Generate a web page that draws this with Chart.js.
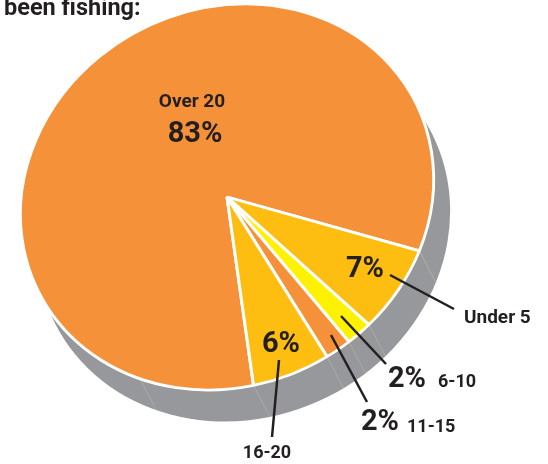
<!DOCTYPE html>
<html>
<head>
<meta charset="utf-8">
<style>
    body { margin: 0; background: #fff; }
    canvas { display: block; }
</style>
<script src="https://cdn.jsdelivr.net/npm/chart.js@4"></script>
</head>
<body>
<canvas id="pieChart" width="548" height="464"></canvas>
<script>
const categories = ['Over 20', 'Under 5', '6-10', '11-15', '16-20'];
const percentValues = [83, 7, 2, 2, 6];
const sliceColors = ['#F59138', '#FDBE11', '#FFF200', '#F59138', '#FDBE11'];

const ink = '#231F20';
const shadowGray = '#97989B';
// the pie is drawn in perspective: a flattened circle, tilted
const tilt = -26.6 * Math.PI / 180;
const squash = 0.8923;
const shadowX = 16.5;
const shadowY = 31.5;
// one extra seam on the side of the big slice
const extraSeamAngle = 139 * Math.PI / 180;

function rimPoint(arc, angle) {
    const px = Math.cos(angle) * arc.outerRadius;
    const py = Math.sin(angle) * arc.outerRadius * squash;
    return {
        x: arc.x + px * Math.cos(tilt) - py * Math.sin(tilt),
        y: arc.y + px * Math.sin(tilt) + py * Math.cos(tilt)
    };
}

function drawSeam(ctx, arc, angle) {
    const p = rimPoint(arc, angle);
    ctx.beginPath();
    ctx.moveTo(p.x, p.y);
    ctx.lineTo(p.x + shadowX, p.y + shadowY);
    ctx.stroke();
}

// draws the grey side of the pie, using the angles of the real arcs
const shadowPlugin = {
    id: 'shadow',
    beforeDatasetsDraw(chart) {
        const ctx = chart.ctx;
        const arcs = chart.getDatasetMeta(0).data;
        ctx.save();
        ctx.fillStyle = shadowGray;
        ctx.beginPath();
        ctx.ellipse(arcs[0].x + shadowX, arcs[0].y + shadowY, arcs[0].outerRadius, arcs[0].outerRadius * squash, tilt, 0, Math.PI * 2);
        ctx.fill();
        ctx.strokeStyle = '#ABABA2';
        ctx.lineWidth = 1;
        arcs.forEach(arc => drawSeam(ctx, arc, arc.startAngle));
        drawSeam(ctx, arcs[0], arcs[1].startAngle);
        drawSeam(ctx, arcs[0], extraSeamAngle);
        ctx.restore();
    }
};

// applies the same tilt and flattening to the pie itself
const squashPlugin = {
    id: 'squash',
    beforeDatasetDraw(chart) {
        const arc = chart.getDatasetMeta(0).data[0];
        chart.ctx.save();
        chart.ctx.translate(arc.x, arc.y);
        chart.ctx.rotate(tilt);
        chart.ctx.scale(1, squash);
        chart.ctx.translate(-arc.x, -arc.y);
    },
    afterDatasetDraw(chart) {
        chart.ctx.restore();
    }
};

function drawText(ctx, text, x, y, size, weight, align) {
    ctx.font = weight + ' ' + size + 'px Roboto';
    ctx.textAlign = align || 'left';
    ctx.textBaseline = 'alphabetic';
    ctx.fillText(text, x, y);
}

function drawLeader(ctx, x1, y1, x2, y2) {
    ctx.beginPath();
    ctx.moveTo(x1, y1);
    ctx.lineTo(x2, y2);
    ctx.stroke();
}

// labels and leader lines
const labelPlugin = {
    id: 'labels',
    afterDraw(chart) {
        const ctx = chart.ctx;
        ctx.save();
        ctx.fillStyle = ink;
        ctx.strokeStyle = ink;
        ctx.lineWidth = 2.5;

        drawLeader(ctx, 390, 275, 454, 309);
        drawLeader(ctx, 341, 316, 386, 364);
        drawLeader(ctx, 331, 335, 367, 402);
        drawLeader(ctx, 279, 360, 272, 437);

        drawText(ctx, 'been fishing:', 4, 15, 23.5, 700);

        drawText(ctx, categories[0], 192, 107, 19, 700, 'center');
        drawText(ctx, percentValues[0] + '%', 195, 142, 29, 700, 'center');

        drawText(ctx, percentValues[1] + '%', 365, 277, 29, 700, 'center');
        drawText(ctx, categories[1], 464, 323, 19, 700);

        drawText(ctx, percentValues[2] + '%', 407, 387, 29, 700, 'center');
        drawText(ctx, categories[2], 438, 387, 18, 700);

        drawText(ctx, percentValues[3] + '%', 380, 430, 29, 700, 'center');
        drawText(ctx, categories[3], 407, 432, 18, 700);

        drawText(ctx, percentValues[4] + '%', 281, 352, 29, 700, 'center');
        drawText(ctx, categories[4], 267, 458, 18, 700, 'center');
        ctx.restore();
    }
};

new Chart(document.getElementById('pieChart').getContext('2d'), {
    type: 'pie',
    data: {
        labels: categories,
        datasets: [{
            data: percentValues,
            backgroundColor: sliceColors,
            borderColor: '#FFFFFF',
            borderWidth: 3,
            borderJoinStyle: 'bevel',
            clip: false
        }]
    },
    options: {
        responsive: false,
        animation: false,
        rotation: 196.7,
        radius: 211,
        layout: { padding: { left: 0, top: 0, right: 94, bottom: 70 } },
        plugins: {
            legend: { display: false },
            title: { display: false },
            tooltip: { enabled: false }
        }
    },
    plugins: [shadowPlugin, squashPlugin, labelPlugin]
});
</script>
</body>
</html>
